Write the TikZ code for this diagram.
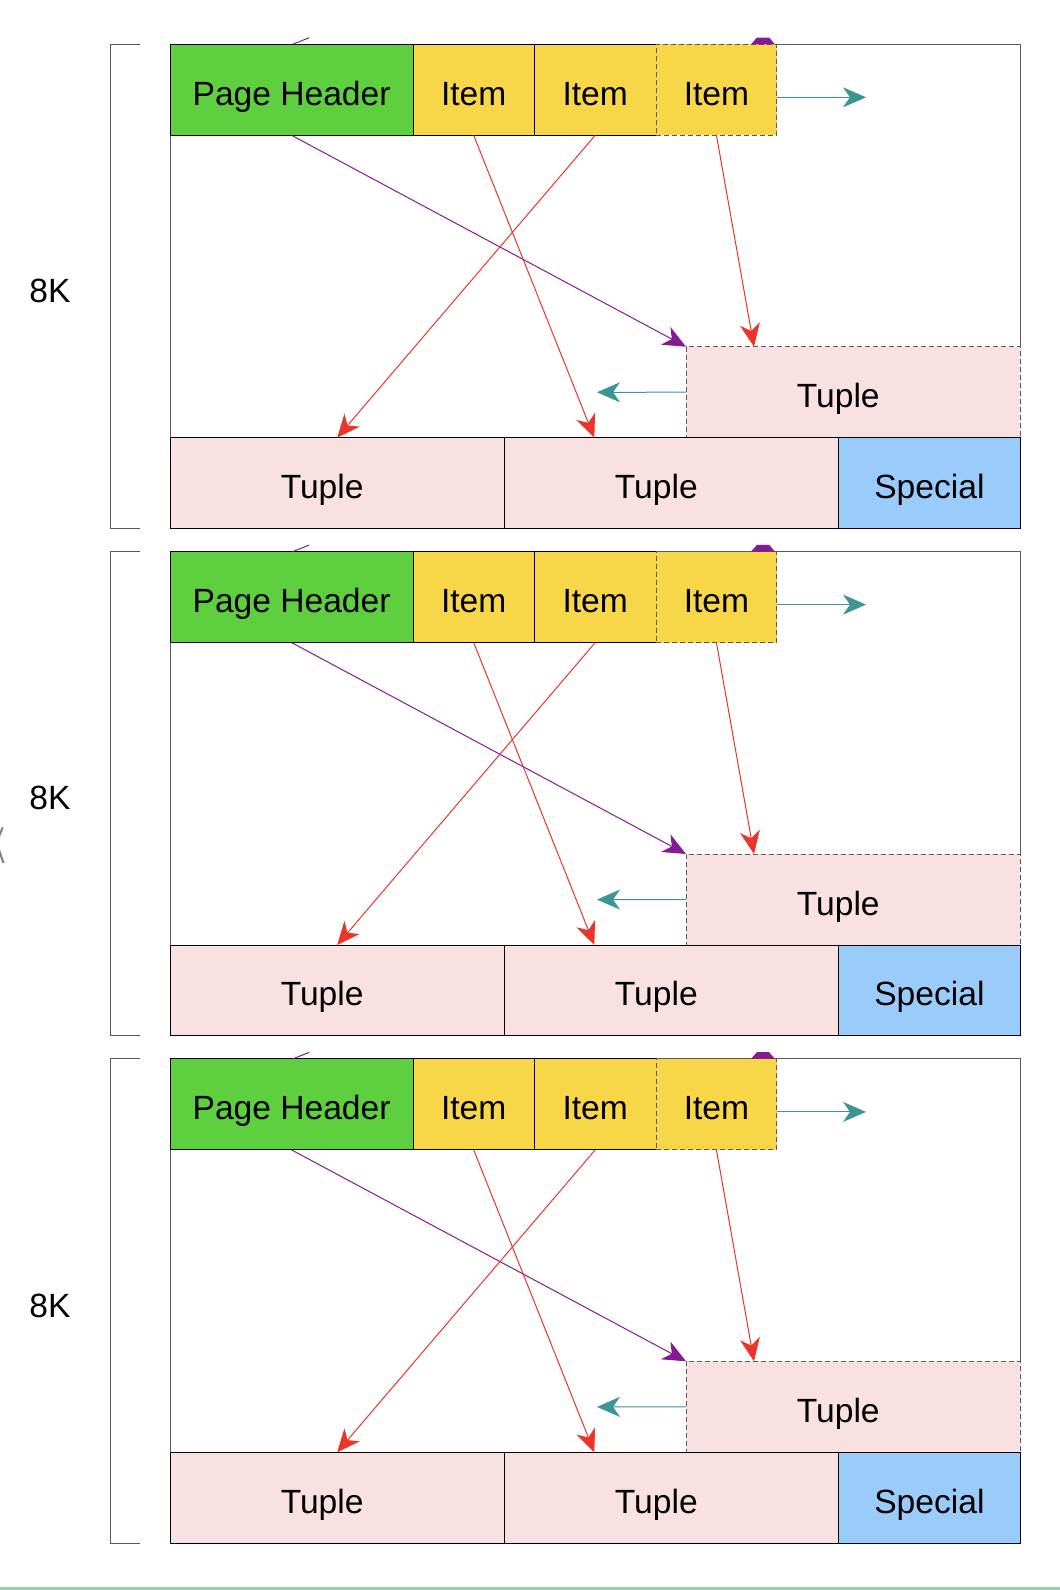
\documentclass[tikz,border=0pt]{standalone}
\usepackage{fontspec}
\setmainfont{Liberation Sans}
\usetikzlibrary{arrows.meta,calc}

\definecolor{hdrgreen}{RGB}{94,207,62}
\definecolor{itemyellow}{RGB}{247,215,72}
\definecolor{tuplepink}{RGB}{249,225,225}
\definecolor{specialblue}{RGB}{153,204,250}
\definecolor{arrowred}{RGB}{236,52,40}
\definecolor{arrowpurple}{RGB}{134,25,148}
\definecolor{arrowteal}{RGB}{60,148,148}
\definecolor{framegray}{RGB}{90,90,90}
\definecolor{stripgreen}{RGB}{140,210,165}

\tikzset{
	box/.style={draw=black, line width=1pt, inner sep=0pt, outer sep=0pt, anchor=north west,
		font=\fontsize{33.6}{40}\selectfont, text height=31pt, text depth=0pt},
	dashbox/.style={box, draw=framegray, dash pattern=on 5pt off 3pt},
	tuplebox/.style={fill=tuplepink, execute at end node={\hspace*{30pt}}},
	link/.style={line width=1pt, -{Stealth[length=23pt,width=20pt,inset=7pt]}},
}

\begin{document}
\begin{tikzpicture}[x=1pt,y=-1pt]
	\useasboundingbox (0,0) rectangle (1060,1590);

	\foreach \p/\oy in {1/0,2/507.3,3/1014.6}{
	\begin{scope}[shift={(0,\oy)}]
	% page outline and size bracket
	\draw[framegray, line width=1pt] (170,44.3) rectangle (1020.5,528.5);
	\draw[framegray, line width=1pt] (140,44.3) -| (110,528.5) -- (140,528.5);
	\node[font=\fontsize{33.6}{40}\selectfont] (size\p) at (50,291) {8K};

	% header row
	\node[box, fill=hdrgreen, minimum width=243.2pt, minimum height=91pt] (hdr\p) at (170,44.3) {Page Header};
	\node[box, fill=itemyellow, minimum width=121pt, minimum height=91pt] (itemA\p) at (413.2,44.3) {Item};
	\node[box, fill=itemyellow, minimum width=122pt, minimum height=91pt] (itemB\p) at (534.2,44.3) {Item};
	\node[dashbox, fill=itemyellow, minimum width=120.5pt, minimum height=91pt] (itemC\p) at (656.2,44.3) {Item};

	% tuples
	\node[dashbox, tuplebox, minimum width=334.5pt, minimum height=91pt] (tupT\p) at (686,346.7) {Tuple};
	\node[box, tuplebox, minimum width=334.3pt, minimum height=90.8pt] (tupL\p) at (170,437.7) {Tuple};
	\node[box, tuplebox, minimum width=334pt, minimum height=90.8pt] (tupM\p) at (504.3,437.7) {Tuple};
	\node[box, fill=specialblue, minimum width=182.2pt, minimum height=90.8pt] (spec\p) at (838.3,437.7) {Special};

	\coordinate (grow\p) at (866,97.3);
	\coordinate (shift\p) at (597,392.3);

	\draw[link, arrowpurple] (hdr\p.south) -- (tupT\p.north west);
	\draw[link, arrowred] (itemA\p.south) -- ([xshift=90pt]tupM\p.north west);
	\draw[link, arrowred] (itemB\p.south) -- (tupL\p.north);
	\draw[link, arrowred] (itemC\p.south) -- ([xshift=68pt]tupT\p.north west);
	\draw[link, arrowteal] ([yshift=-7.5pt]itemC\p.east) -- (grow\p);
	\draw[link, arrowteal] (tupT\p.west) -- (shift\p);

	% stray bits above the page
	\draw[arrowpurple, line width=1pt] (292.7,44.3) -- (309.3,37.7);
	\fill[arrowpurple] (751,44.3) -- (757,37.5) -- (769,37.5) -- (775,44.3) -- cycle;
	\end{scope}
	}

	\node[anchor=east, inner sep=0pt, text=gray, font=\fontsize{52}{60}\selectfont] (cutK) at (6,846) {\scalebox{0.4}[1]{K}};
	\fill[stripgreen] (0,1587) rectangle (1060,1590);
\end{tikzpicture}
\end{document}
